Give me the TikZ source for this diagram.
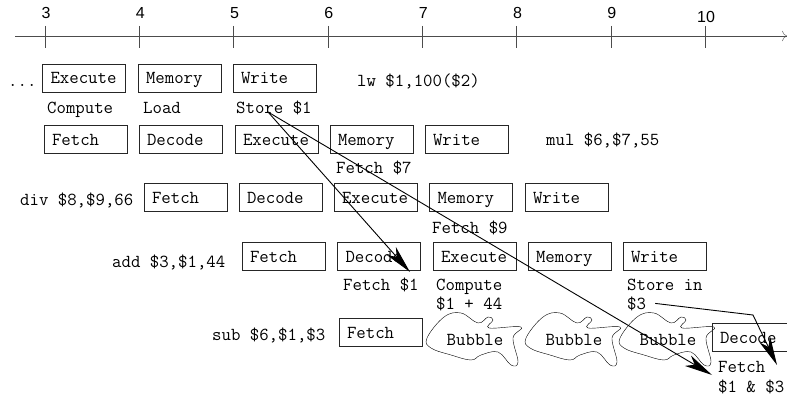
\documentclass[tikz,border=0pt]{standalone}
\usepackage{fontspec}
\newfontfamily\numfont{Liberation Sans}
\usetikzlibrary{arrows.meta}

\tikzset{
  stage/.style={draw=black!85, rectangle, minimum width=83pt, minimum height=28pt,
    text width=67pt, inner xsep=8pt, inner ysep=0pt, align=left,
    text height=12pt, text depth=0pt, font=\ttfamily\fontsize{18.3}{22}\selectfont},
  instr/.style={anchor=base west, inner sep=0pt, font=\ttfamily\fontsize{18.3}{22}\selectfont},
  hazard/.style={black, line width=0.9pt, -{Stealth[length=28pt,width=12pt,inset=8pt]}},
  bubble/.pic={
    \draw[black] plot[smooth cycle, tension=0.65] coordinates {
      (-48,-3) (-31,-24) (-14,-28) (3,-18) (13,-24) (18,-21) (14,-13) (46,-14)
      (38,-3) (43,21) (36,24) (23,11) (6,14) (-4,19) (-24,14) (-44,7)};
  }
}

\begin{document}
\begin{tikzpicture}[x=1pt,y=-1pt]
	\useasboundingbox (0,0) rectangle (787,396);

	% time line
	\draw[black!70, -{To[length=5pt]}] (15,36) -- (787,36);
	\foreach \t in {3,...,10}{
		\draw[black!70] ({45+94.3*(\t-3)},26) -- ++(0,22);
		\node[font=\numfont\fontsize{16}{19}\selectfont, anchor=base, inner sep=0pt]
			(t\t) at ({46+94.3*(\t-3)},{19+4*(\t>9)}) {\t};
	}

	% lw
	\node[instr] (dots) at (8,86) {...};
	\node[stage] (exe1) at (84,78) {Execute};
	\node[stage] (mem1) at (179.5,78) {Memory};
	\node[stage] (wb1) at (274.5,78) {Write};
	\node[instr] (lw) at (357,86) {lw \$1,100(\$2)};
	\node[instr] (cmp1) at (47,113) {Compute};
	\node[instr] (ld1) at (143,113) {Load};
	\node[instr] (st1) at (236,113) {Store \$1};

	% mul
	\node[stage] (if2) at (85.5,139) {Fetch};
	\node[stage] (id2) at (180.5,139) {Decode};
	\node[stage] (exe2) at (276.5,139) {Execute};
	\node[stage] (mem2) at (371.5,139) {Memory};
	\node[stage] (wb2) at (466.5,139) {Write};
	\node[instr] (mul) at (546,145) {mul \$6,\$7,55};
	\node[instr] (rd2) at (336,173) {Fetch \$7};

	% div
	\node[instr] (div) at (20,205) {div \$8,\$9,66};
	\node[stage] (if3) at (185.5,197) {Fetch};
	\node[stage] (id3) at (280.5,197) {Decode};
	\node[stage] (exe3) at (375.5,197) {Execute};
	\node[stage] (mem3) at (471,197) {Memory};
	\node[stage] (wb3) at (566.5,197) {Write};
	\node[instr] (rd3) at (432,233) {Fetch \$9};

	% add
	\node[instr] (add) at (112,267) {add \$3,\$1,44};
	\node[stage] (if4) at (283.5,256.5) {Fetch};
	\node[stage] (id4) at (379,256.5) {Decode};
	\node[stage] (exe4) at (474.5,256.5) {Execute};
	\node[stage] (mem4) at (569.5,256.5) {Memory};
	\node[stage] (wb4) at (664.5,256.5) {Write};
	\node[instr] (rd4) at (343,290) {Fetch \$1};
	\node[instr] (cmp4) at (436,290) {Compute};
	\node[instr] (sum4) at (436,309) {\$1 + 44};
	\node[instr] (st4) at (627,290) {Store in};
	\node[instr] (st4b) at (627,309) {\$3};

	% sub
	\node[instr] (sub) at (212,340) {sub \$6,\$1,\$3};
	\node[stage] (if5) at (380.5,332) {Fetch};
	\pic at (475,341) {bubble};
	\pic at (574,341) {bubble};
	\pic at (668,341) {bubble};
	\node[instr, anchor=base] (nop1) at (475,345) {Bubble};
	\node[instr, anchor=base] (nop2) at (574,345) {Bubble};
	\node[instr, anchor=base] (nop3) at (668,345) {Bubble};
	\node[stage] (id5) at (753.5,337.5) {Decode};
	\node[instr] (rd5) at (718,372) {Fetch};
	\node[instr] (rd5b) at (718,392) {\$1 \& \$3};

	% forwarding
	\coordinate (src1) at (268,112);
	\coordinate (dst1) at (410,272);
	\coordinate (dst2) at (712,375);
	\coordinate (bend3) at (753,315);
	\coordinate (dst3) at (777,365);
	\draw[hazard] (src1) -- (dst1);
	\draw[hazard] (src1) -- (dst2);
	\draw[hazard] ([xshift=9pt]st4b.east) -- (bend3) -- (dst3);
\end{tikzpicture}
\end{document}
